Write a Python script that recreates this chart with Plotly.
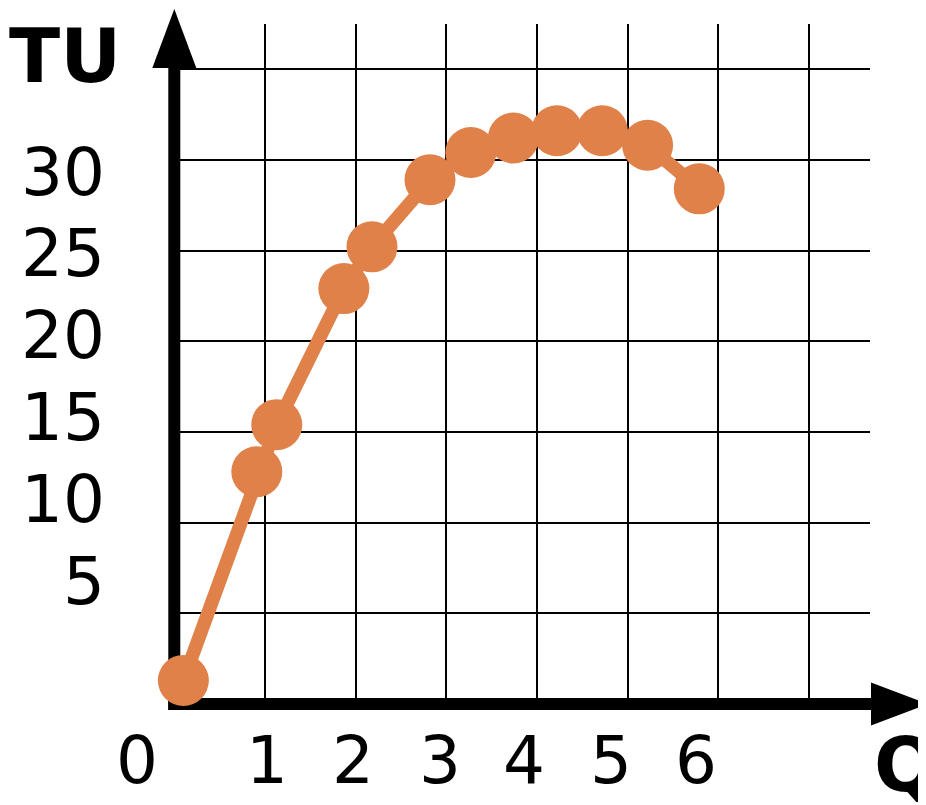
import plotly.graph_objects as go

# ---------------- data ----------------
Q_VALUES = [0.10, 0.91, 1.13, 1.87, 2.18, 2.82, 3.27, 3.74, 4.22, 4.72, 5.22, 5.79]
TU_VALUES = [1.3, 12.8, 15.4, 22.9, 25.2, 28.9, 30.4, 31.2, 31.6, 31.6, 30.8, 28.4]
X_TICK_LABELS = ["0", "1", "2", "3", "4", "5", "6"]
Y_TICK_LABELS = ["5", "10", "15", "20", "25", "30"]
X_TITLE = "Q"
Y_TITLE = "TU"

# ---------------- layout constants (page pixels) ----------------
PAGE_W, PAGE_H = 926, 805
OFF = 8                        # default page body margin
W, H = PAGE_W - OFF, PAGE_H - OFF
X0_PX, SX = 174.3, 90.67       # page pixel of Q=0, px per Q unit
Y0_PX, SY = 704.0, 18.14       # page pixel of TU=0, px per TU unit
GRID_RIGHT_PX, GRID_TOP_PX = 870.0, 24.0


def ux(px):
    return (px - X0_PX) / SX


def uy(py):
    return (Y0_PX - py) / SY


X_LABEL_POS = [ux(p) for p in (137, 267, 353, 440, 524, 611, 696)]
X_LABEL_Y = uy(760)
Y_LABEL_POS = [uy(p + 1.2) for p in (580, 498, 416, 334, 252, 171)]
Y_LABEL_RIGHT = ux(107)

ORANGE = "#DF8149"
FONT = "DejaVu Sans"

fig = go.Figure()

# empty trace so the grid subplot is drawn
fig.add_trace(go.Scatter(x=[], y=[], xaxis="x", yaxis="y", showlegend=False,
                         hoverinfo="skip"))

fig.add_trace(go.Scatter(
    x=Q_VALUES, y=TU_VALUES, mode="lines+markers",
    xaxis="x2", yaxis="y2",
    line=dict(color=ORANGE, width=13.5),
    marker=dict(color=ORANGE, size=51, line=dict(width=0)),
    cliponaxis=False, hoverinfo="skip", showlegend=False,
))

shapes = []
AX_W = 12
shapes.append(dict(type="line", xref="x2", yref="y2", layer="below",
                   x0=0, x1=0, y0=uy(Y0_PX + AX_W / 2), y1=uy(66),
                   line=dict(color="black", width=AX_W)))
shapes.append(dict(type="line", xref="x2", yref="y2", layer="below",
                   x0=ux(X0_PX - AX_W / 2), x1=ux(873), y0=0, y1=0,
                   line=dict(color="black", width=AX_W)))
ya_base, ya_tip, ya_hw = uy(68), uy(9), 22 / SX
shapes.append(dict(type="path", xref="x2", yref="y2", layer="below",
                   path=f"M {-ya_hw} {ya_base} L {ya_hw} {ya_base} L 0 {ya_tip} Z",
                   fillcolor="black", line=dict(width=0)))
xa_base, xa_tip, xa_hh = ux(871), ux(928), 21.5 / SY
shapes.append(dict(type="path", xref="x2", yref="y2", layer="below",
                   path=f"M {xa_base} {-xa_hh} L {xa_base} {xa_hh} L {xa_tip} 0 Z",
                   fillcolor="black", line=dict(width=0)))

annotations = []
for t, xp in zip(X_TICK_LABELS, X_LABEL_POS):
    annotations.append(dict(text=t, x=xp, y=X_LABEL_Y, xref="x2", yref="y2",
                            xanchor="center", yanchor="middle", showarrow=False,
                            font=dict(family=FONT, size=66, color="black")))
for t, yp in zip(Y_TICK_LABELS, Y_LABEL_POS):
    annotations.append(dict(text=t, x=Y_LABEL_RIGHT, y=yp, xref="x2", yref="y2",
                            xanchor="right", yanchor="middle", showarrow=False,
                            font=dict(family=FONT, size=66, color="black")))
annotations.append(dict(text=f"<b>{Y_TITLE}</b>", x=ux(65), y=uy(56), xref="x2", yref="y2",
                        xanchor="center", yanchor="middle", showarrow=False,
                        font=dict(family=FONT, size=75, color="black")))
annotations.append(dict(text=f"<b>{X_TITLE}</b>", x=ux(872), y=uy(765), xref="x2", yref="y2",
                        xanchor="left", yanchor="middle", showarrow=False,
                        font=dict(family=FONT, size=75, color="black")))

# figure-pixel helpers (figure origin sits at page pixel OFF, OFF)
def fx(px):
    return (px - OFF) / W


def fy(py):
    return (H - (py - OFF)) / H


fig.update_layout(
    width=W, height=H, autosize=False,
    margin=dict(l=0, r=0, t=0, b=0, pad=0),
    paper_bgcolor="white", plot_bgcolor="rgba(0,0,0,0)",
    showlegend=False,
    xaxis=dict(domain=[fx(X0_PX), fx(GRID_RIGHT_PX)], range=[0, ux(GRID_RIGHT_PX)],
               anchor="y", showgrid=True, gridcolor="black", gridwidth=2,
               tick0=0, dtick=1, showticklabels=False, ticks="", showline=False,
               zeroline=False, fixedrange=True),
    yaxis=dict(domain=[fy(Y0_PX), fy(GRID_TOP_PX)], range=[0, uy(GRID_TOP_PX)],
               anchor="x", showgrid=True, gridcolor="black", gridwidth=2,
               tick0=0, dtick=5, showticklabels=False, ticks="", showline=False,
               zeroline=False, fixedrange=True),
    xaxis2=dict(domain=[0, 1], range=[ux(OFF), ux(OFF + W)], anchor="y2", visible=False,
                fixedrange=True),
    yaxis2=dict(domain=[0, 1], range=[uy(OFF + H), uy(OFF)], anchor="x2", visible=False,
                fixedrange=True),
    shapes=shapes,
    annotations=annotations,
)

fig.write_html("out.html")
